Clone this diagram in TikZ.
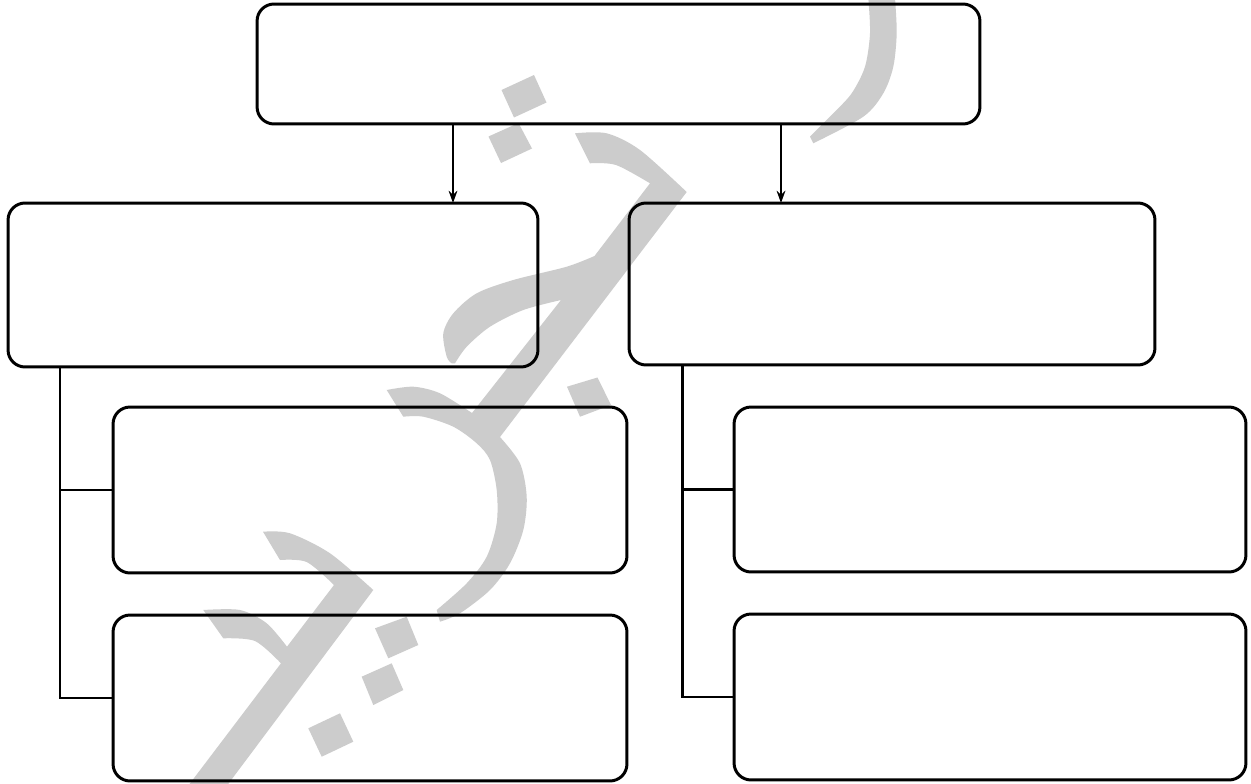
\documentclass[tikz,border=0pt]{standalone}
\usetikzlibrary{arrows.meta}
\definecolor{wm}{RGB}{204,204,204}
\begin{document}
\begin{tikzpicture}[x=0.02cm,y=-0.02cm,
  box/.style={draw=black,line width=1.7pt,rounded corners=0.34cm,inner sep=0pt,outer sep=0pt},
  arr/.style={line width=1pt,-{Stealth[length=7pt,width=5pt]}},
  link/.style={line width=1.7pt},
  wmfill/.style={fill=wm}]
\useasboundingbox (0,0) rectangle (1251,784);
\fill[white] (0,0) rectangle (1251,784);
% watermark
\fill[wmfill] plot[smooth] coordinates {(895,-2) (896.7,33.3) (893.3,66.7) (883.3,93.3) (863.3,116.7) (813.3,143.3)}
  -- plot[smooth] coordinates {(810,136.7) (833.3,113.3) (851.7,93.3) (865,66.7) (870,33.3) (868.3,-2)} -- cycle;
\fill[wmfill] (501.5,90) -- (534,75) -- (546.5,102.5) -- (514,117.5) -- cycle;
\fill[wmfill] (488.5,136.5) -- (518.5,123) -- (532,148.5) -- (501,163) -- cycle;
\fill[wmfill] (567,386.7) -- (597.5,377.5) -- (611,405) -- (580,416.7) -- cycle;
\fill[wmfill] (375,628.3) -- (406.7,616.7) -- (418.3,645) -- (388.3,658.3) -- cycle;
\fill[wmfill] (361.7,676.7) -- (391.7,663.3) -- (403.3,690) -- (373.3,705) -- cycle;
\fill[wmfill] (308.3,728.3) -- (340,713.3) -- (353.3,741.7) -- (321.7,756.7) -- cycle;
% upper jeem with lower hah
\fill[wmfill] plot[smooth] coordinates {(575,133.3) (606.7,133.3) (640,150) (686.7,192)}
  -- (500,437)
  -- plot[smooth] coordinates {(500,437) (520,463.3) (526.7,496.7) (523.3,530) (510,563.3) (490,590) (460,613.3) (440,621.7)}
  -- plot[smooth] coordinates {(436.7,610) (466.7,583.3) (486.7,556.7) (496.7,523.3) (496.7,490) (490,460) (476.7,443.3) (453.3,426.7) (423.3,416.7) (403.3,416.7)}
  -- plot[smooth] coordinates {(386.7,390) (413.3,386.7) (440,393.3) (472,413)}
  -- (561,300)
  -- plot[smooth] coordinates {(561,300) (523.3,310) (490,326.7) (466.7,346.7) (455,363.3)}
  -- plot[smooth] coordinates {(451.7,363.3) (446.7,356.7) (443.3,333.3) (453.3,313.3) (476.7,293.3) (513.3,280) (566.7,266.7) (594.5,256)}
  -- (650,183.3)
  -- plot[smooth] coordinates {(650,183.3) (616,165) (590,163.3)} -- cycle;
% lower-left strokes
\fill[wmfill] plot[smooth] coordinates {(263,531.7) (290,533.3) (330,553.3) (373.3,590)}
  -- (226.7,786) -- (188,786) -- (281,663.3)
  -- plot[smooth] coordinates {(281,663.3) (255,641) (223.3,638.3)}
  -- plot[smooth] coordinates {(203.3,610) (240,610) (266.7,623.3) (287,646.7)}
  -- (334,585)
  -- plot[smooth] coordinates {(334,585) (306.7,562) (280,560)} -- cycle;
% boxes
\node[box,minimum width=14.46cm,minimum height=2.40cm] (top) at (618.5,64) {};
\node[box,minimum width=10.60cm,minimum height=3.28cm] (lm) at (273,285) {};
\node[box,minimum width=10.52cm,minimum height=3.24cm] (rm) at (892,284) {};
\node[box,minimum width=10.28cm,minimum height=3.32cm] (ll1) at (370,490) {};
\node[box,minimum width=10.28cm,minimum height=3.32cm] (ll2) at (370,698) {};
\node[box,minimum width=10.24cm,minimum height=3.30cm] (rl1) at (990,489.5) {};
\node[box,minimum width=10.24cm,minimum height=3.32cm] (rl2) at (990,697) {};
% arrows
\coordinate (ax1) at (453,0);
\coordinate (ax2) at (781,0);
\draw[arr] (top.south -| ax1) -- (lm.north -| ax1);
\draw[arr] (top.south -| ax2) -- (rm.north -| ax2);
% tree links
\coordinate (tl) at (60,0);
\coordinate (tr) at (682,0);
\draw[link] (lm.south -| tl) |- (ll2.west);
\draw[link] (ll1.west) -- (ll1.west -| tl);
\draw[link] (rm.south -| tr) |- (rl2.west);
\draw[link] (rl1.west) -- (rl1.west -| tr);
\end{tikzpicture}
\end{document}
